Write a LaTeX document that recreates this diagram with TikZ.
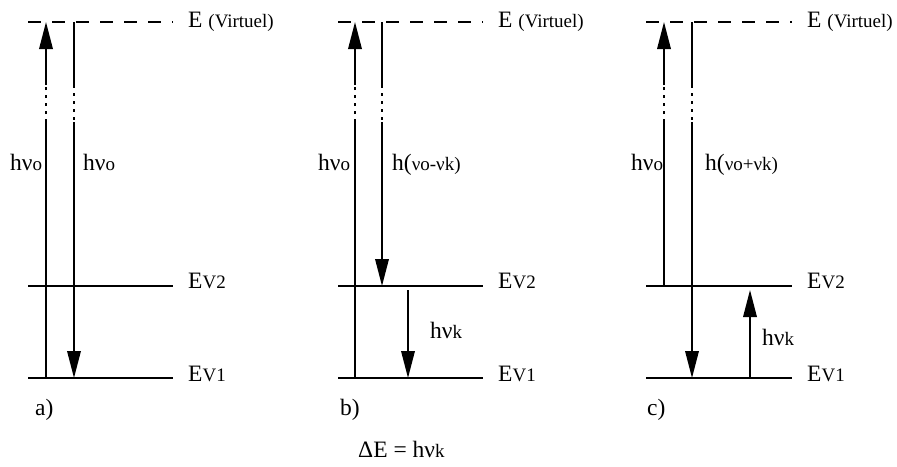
\documentclass[tikz,border=0pt]{standalone}
\usepackage{fontspec}
\setmainfont{Liberation Serif}
\usetikzlibrary{arrows.meta}
\newcommand{\bigf}{\fontsize{23.5}{24}\selectfont}
\newcommand{\smf}[1]{{\fontsize{19}{19}\selectfont #1}}
\tikzset{
  lev/.style={line width=1.9pt},
  virt/.style={line width=1.9pt, dash pattern=on 13pt off 11pt},
  vline/.style={line width=1.8pt},
  dotl/.style={line width=1.8pt, dash pattern=on 3pt off 5pt},
  arr/.style={line width=1.8pt, -{Triangle[length=27pt,width=13.5pt]}},
  lbl/.style={anchor=base west, inner sep=0pt, font=\bigf},
}
\begin{document}
\begin{tikzpicture}[x=1pt,y=-1pt]
\useasboundingbox (0,0) rectangle (897,466);
% ---------- panel a ----------
\coordinate (aV0) at (28,22);  \coordinate (aV1) at (173,22);
\coordinate (a20) at (28,286); \coordinate (a21) at (173,286);
\coordinate (a10) at (28,378); \coordinate (a11) at (173,378);
\draw[virt] (aV0) -- (aV1);
\draw[lev] (a20) -- (a21);
\draw[lev] (a10) -- (a11);
\coordinate (aU0) at (46,378); \coordinate (aU1) at (46,122);
\coordinate (aU2) at (46,85);  \coordinate (aU3) at (46,22);
\draw[vline] (aU0) -- (aU1); \draw[dotl] (aU1) -- (aU2); \draw[arr] (aU2) -- (aU3);
\coordinate (aD0) at (74,22);  \coordinate (aD1) at (74,85);
\coordinate (aD2) at (74,122); \coordinate (aD3) at (74,378);
\draw[vline] (aD0) -- (aD1); \draw[dotl] (aD1) -- (aD2); \draw[arr] (aD2) -- (aD3);
\node[lbl] (aE)  at (188,27)  {E \smf{(Virtuel)}};
\node[lbl] (aE2) at (188,288) {E\smf{V2}};
\node[lbl] (aE1) at (188,381) {E\smf{V1}};
\node[lbl] (aL)  at (10,170)  {hν\smf{o}};
\node[lbl] (aR)  at (83,170)  {hν\smf{o}};
\node[lbl] (aT)  at (35,415)  {a)};
% ---------- panel b ----------
\coordinate (bV0) at (338,22);  \coordinate (bV1) at (483,22);
\coordinate (b20) at (338,286); \coordinate (b21) at (483,286);
\coordinate (b10) at (338,378); \coordinate (b11) at (483,378);
\draw[virt] (bV0) -- (bV1);
\draw[lev] (b20) -- (b21);
\draw[lev] (b10) -- (b11);
\coordinate (bU0) at (355,378); \coordinate (bU1) at (355,122);
\coordinate (bU2) at (355,85);  \coordinate (bU3) at (355,22);
\draw[vline] (bU0) -- (bU1); \draw[dotl] (bU1) -- (bU2); \draw[arr] (bU2) -- (bU3);
\coordinate (bD0) at (382,22);  \coordinate (bD1) at (382,85);
\coordinate (bD2) at (382,122); \coordinate (bD3) at (382,286);
\draw[vline] (bD0) -- (bD1); \draw[dotl] (bD1) -- (bD2); \draw[arr] (bD2) -- (bD3);
\coordinate (bK0) at (408,290); \coordinate (bK1) at (408,378);
\draw[arr] (bK0) -- (bK1);
\node[lbl] (bE)  at (498,27)  {E \smf{(Virtuel)}};
\node[lbl] (bE2) at (498,288) {E\smf{V2}};
\node[lbl] (bE1) at (498,381) {E\smf{V1}};
\node[lbl] (bL)  at (318,170) {hν\smf{o}};
\node[lbl] (bR)  at (392,170) {h(\smf{νo-νk)}};
\node[lbl] (bK)  at (430,338) {hν\smf{k}};
\node[lbl] (bT)  at (340,415) {b)};
% ---------- panel c ----------
\coordinate (cV0) at (646,22);  \coordinate (cV1) at (792,22);
\coordinate (c20) at (646,286); \coordinate (c21) at (792,286);
\coordinate (c10) at (646,378); \coordinate (c11) at (792,378);
\draw[virt] (cV0) -- (cV1);
\draw[lev] (c20) -- (c21);
\draw[lev] (c10) -- (c11);
\coordinate (cU0) at (664,286); \coordinate (cU1) at (664,122);
\coordinate (cU2) at (664,85);  \coordinate (cU3) at (664,22);
\draw[vline] (cU0) -- (cU1); \draw[dotl] (cU1) -- (cU2); \draw[arr] (cU2) -- (cU3);
\coordinate (cD0) at (692,22);  \coordinate (cD1) at (692,85);
\coordinate (cD2) at (692,122); \coordinate (cD3) at (692,378);
\draw[vline] (cD0) -- (cD1); \draw[dotl] (cD1) -- (cD2); \draw[arr] (cD2) -- (cD3);
\coordinate (cK0) at (750,378); \coordinate (cK1) at (750,290);
\draw[arr] (cK0) -- (cK1);
\node[lbl] (cE)  at (807,27)  {E \smf{(Virtuel)}};
\node[lbl] (cE2) at (807,288) {E\smf{V2}};
\node[lbl] (cE1) at (807,381) {E\smf{V1}};
\node[lbl] (cL)  at (631,170) {hν\smf{o}};
\node[lbl] (cR)  at (705,170) {h(\smf{νo+νk)}};
\node[lbl] (cK)  at (762,345) {hν\smf{k}};
\node[lbl] (cT)  at (647,415) {c)};
% ---------- bottom ----------
\node[lbl] (dE) at (358,457) {ΔE = hν\smf{k}};
\end{tikzpicture}
\end{document}
